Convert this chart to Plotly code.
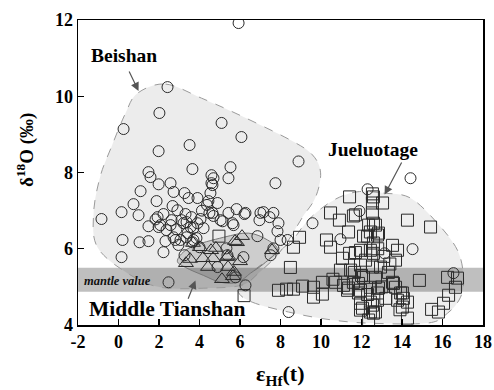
import plotly.graph_objects as go

# ---------------- data ----------------
beishan_x = [5.93, 2.42, 2.02, 0.25, 5.09, 6.07, 3.51, 1.98, 3.65, 5.53, 4.59, 1.48, 1.58, 1.98, 2.57,
             1.09, 2.72, 3.26, 1.88, 0.74, 0.15, 0.99, -0.84, 2.67, 2.91, 2.22, 1.83, 2.62, 3.11, 1.48,
             1.98, 2.37, 2.86, 0.20, 1.04, 1.48, 2.32, 2.81, 2.96, 0.15, 2.22, 2.47, 6.27, 5.78, 7.75,
             3.46, 3.90, 4.44, 3.31, 4.05, 4.49, 4.89, 5.43, 5.83, 6.27, 5.63, 5.04, 7.01, 6.96, 7.46,
             7.90, 6.86, 7.65, 7.51, 5.33, 4.69, 4.64, 4.54, 5.43, 1.93, 2.57, 2.07, 3.21, 3.41, 3.60,
             3.70, 3.90, 2.72, 3.06, 3.65, 3.85, 4.00, 3.26, 5.38, 6.17, 4.89, 4.59, 4.37, 4.12, 4.64,
             6.22, 7.16, 7.65, 4.69, 5.14, 5.68, 7.85, 3.36, 3.56, 4.20, 8.00, 8.35, 3.36, 3.70, 8.89,
             14.42, 9.58, 11.90, 12.30, 14.52, 13.14, 16.54, 8.40, 10.96]
beishan_y = [11.92, 10.24, 9.56, 9.14, 9.30, 8.93, 8.72, 8.56, 8.09, 8.14, 7.93, 8.01, 7.88, 7.69, 7.72,
             7.51, 7.49, 7.46, 7.25, 7.17, 6.96, 6.88, 6.78, 7.12, 7.01, 6.91, 6.77, 6.75, 6.75, 6.59,
             6.57, 6.49, 6.51, 6.23, 6.17, 6.20, 6.20, 6.23, 6.10, 5.78, 5.91, 5.12, 5.04, 5.25, 7.72,
             7.33, 7.33, 7.25, 6.91, 6.78, 6.94, 7.20, 6.94, 7.04, 6.94, 6.67, 6.75, 6.94, 6.75, 6.83,
             6.67, 6.33, 6.01, 5.83, 6.01, 7.85, 7.67, 7.46, 7.85, 6.83, 6.62, 6.62, 6.67, 6.41, 6.83,
             6.54, 6.67, 6.30, 6.23, 6.17, 6.28, 6.04, 5.83, 5.83, 5.78, 5.52, 7.72, 7.15, 7.00, 6.94,
             6.91, 6.96, 6.94, 6.86, 6.72, 6.62, 6.46, 6.70, 6.57, 6.54, 6.23, 6.23, 6.30, 6.23, 8.29,
             7.85, 6.67, 6.99, 7.56, 5.99, 5.88, 5.36, 4.34, 6.25]

jueluotage_x = [11.41, 12.54, 13.04, 12.54, 12.54, 10.47, 10.91, 11.60, 14.27, 15.41, 11.36, 12.35, 12.69,
                12.30, 12.79, 8.94, 8.64, 10.27, 10.47, 11.06, 11.41, 11.95, 12.44, 13.53, 13.78, 13.68,
                8.49, 11.95, 12.54, 12.94, 11.46, 10.72, 11.11, 11.60, 12.10, 12.69, 13.53, 13.68, 14.86,
                10.07, 9.63, 9.09, 8.64, 7.90, 9.63, 10.07, 11.31, 11.85, 12.44, 12.84, 13.93, 14.07,
                11.95, 12.54, 12.59, 14.02, 14.27, 15.46, 15.80, 16.05, 16.30, 16.64, 16.25, 16.74,
                11.95, 14.27, 12.59, 12.59, 12.84, 12.59, 12.59, 13.33, 13.58, 14.02, 13.78, 12.79,
                12.79, 12.69, 11.70, 12.10, 12.44, 10.96, 11.65, 10.59, 11.85, 11.36, 11.95, 12.05,
                12.44, 12.44, 12.35, 8.30, 4.96, 6.20, 12.2, 13.0, 13.2, 12.0, 13.4, 12.8, 13.9, 11.7,
                13.1, 12.3]
jueluotage_y = [7.36, 7.44, 7.20, 7.20, 6.94, 6.94, 6.75, 6.86, 6.75, 6.57, 6.44, 6.62, 6.62,
                6.33, 6.36, 6.30, 6.04, 6.23, 6.04, 5.75, 5.88, 5.96, 5.96, 6.09, 5.96, 5.70,
                5.51, 5.57, 5.52, 5.52, 5.44, 5.12, 5.04, 5.12, 5.25, 5.25, 5.12, 4.99, 5.17,
                5.12, 4.99, 5.02, 4.94, 4.91, 4.73, 4.81, 4.91, 4.84, 4.99, 4.97, 4.84, 4.70,
                4.57, 4.52, 4.31, 4.47, 4.60, 4.41, 4.34, 4.57, 4.78, 4.99, 5.25, 5.23,
                4.39, 4.18, 7.36, 6.67, 6.41, 6.15, 5.88, 5.38, 5.09, 4.84, 4.65, 4.84,
                4.65, 4.34, 6.89, 6.33, 6.44, 5.44, 5.38, 5.20, 5.09, 4.97, 4.91, 4.44,
                4.60, 4.34, 4.13, 4.94, 6.33, 4.77, 5.7, 5.0, 4.7, 5.3, 5.6, 6.0, 4.4, 5.9,
                5.8, 4.8]

tianshan_x = [3.33, 3.53, 3.68, 4.02, 4.17, 4.42, 4.57, 4.67, 4.81, 5.11, 5.36, 5.41, 5.41, 5.65, 5.70,
              5.75, 5.85, 6.00, 6.10, 7.58]
tianshan_y = [5.62, 5.73, 6.15, 6.04, 5.75, 5.52, 5.96, 5.75, 6.02, 5.20, 5.78, 5.81, 5.52, 5.28, 5.39,
              6.20, 6.17, 5.67, 6.33, 5.96]

# field outlines (data units)
beishan_fx = [2.32, 4.1, 6.0, 8.49, 9.58, 9.98, 9.73, 9.09, 8.4, 7.75, 6.91, 6.12, 4.5, 2.07, 0.44,
              -1.04, -1.23, -0.9, -0.35, 0.35, 0.94]
beishan_fy = [10.32, 9.95, 9.5, 8.85, 8.46, 7.99, 7.35, 6.83, 6.23, 5.78, 5.36, 5.05, 4.97, 4.99, 5.36,
              6.04, 6.93, 7.9, 8.67, 9.56, 10.08]
jue_fx = [13.09, 14.42, 15.75, 16.74, 17.04, 16.89, 16.25, 15.26, 12.3, 10.3, 8.4, 6.6, 5.9, 6.4, 7.6,
          8.59, 9.23, 10.0, 10.9, 11.9]
jue_fy = [7.46, 7.33, 6.67, 5.96, 5.25, 4.73, 4.31, 4.05, 4.05, 4.15, 4.34, 4.6, 4.9, 5.3, 5.8,
          6.23, 6.67, 7.05, 7.35, 7.5]
tian_fx = [2.91, 3.56, 5.19, 6.42, 7.36, 7.85, 7.16, 6.52, 5.88, 5.04, 4.20, 3.31]
tian_fy = [5.70, 6.04, 6.30, 6.41, 6.23, 5.96, 5.60, 5.36, 5.12, 5.12, 5.30, 5.51]

mantle_range = [4.87, 5.5]
x_ticks = [-2, 0, 2, 4, 6, 8, 10, 12, 14, 16, 18]
y_ticks = [4, 6, 8, 10, 12]

SERIF = "Liberation Serif"


def smooth_path(xs, ys):
    n = len(xs)
    p = list(zip(xs, ys))
    s = f"M {p[0][0]},{p[0][1]}"
    for i in range(n):
        p0, p1, p2, p3 = p[i - 1], p[i], p[(i + 1) % n], p[(i + 2) % n]
        c1 = (p1[0] + (p2[0] - p0[0]) / 6, p1[1] + (p2[1] - p0[1]) / 6)
        c2 = (p2[0] - (p3[0] - p1[0]) / 6, p2[1] - (p3[1] - p1[1]) / 6)
        s += f" C {c1[0]:.3f},{c1[1]:.3f} {c2[0]:.3f},{c2[1]:.3f} {p2[0]},{p2[1]}"
    return s + " Z"


fig = go.Figure()

mk_line = dict(color="#2a2a2a", width=1)
fig.add_trace(go.Scatter(x=beishan_x, y=beishan_y, mode="markers", name="Beishan",
                         marker=dict(symbol="circle-open", size=11, line=mk_line, color="#2a2a2a")))
fig.add_trace(go.Scatter(x=jueluotage_x, y=jueluotage_y, mode="markers", name="Jueluotage",
                         marker=dict(symbol="square-open", size=12, line=mk_line, color="#2a2a2a")))
fig.add_trace(go.Scatter(x=tianshan_x, y=tianshan_y, mode="markers", name="Middle Tianshan",
                         marker=dict(symbol="triangle-up-open", size=13, line=mk_line, color="#2a2a2a")))

shapes = [
    dict(type="path", path=smooth_path(beishan_fx, beishan_fy), xref="x", yref="y", layer="below",
         fillcolor="rgba(0,0,0,0.075)", line=dict(color="#9a9a9a", width=1, dash="dash")),
    dict(type="path", path=smooth_path(jue_fx, jue_fy), xref="x", yref="y", layer="below",
         fillcolor="rgba(0,0,0,0.065)", line=dict(color="#9a9a9a", width=1, dash="dash")),
    dict(type="rect", xref="paper", yref="y", x0=0, x1=1, y0=mantle_range[0], y1=mantle_range[1],
         layer="below", fillcolor="rgba(0,0,0,0.25)", line=dict(width=0)),
    dict(type="path", path=smooth_path(tian_fx, tian_fy), xref="x", yref="y", layer="below",
         fillcolor="rgba(0,0,0,0.13)", line=dict(color="#777777", width=1)),
]

ann_font = dict(family=SERIF, size=19.5, color="black")
annotations = [
    dict(x=-1.45, y=11.08, text="<b>Beishan</b>", showarrow=False, xanchor="left", yanchor="middle",
         font=ann_font),
    dict(x=12.55, y=8.6, text="<b>Jueluotage</b>", showarrow=False, xanchor="center", yanchor="middle",
         font=ann_font),
    dict(x=-1.55, y=4.42, text="<b>Middle Tianshan</b>", showarrow=False, xanchor="left",
         yanchor="middle", font=dict(family=SERIF, size=21.5, color="black")),
    dict(x=-1.8, y=5.16, text="<b><i>mantle value</i></b>", showarrow=False, xanchor="left",
         yanchor="middle", font=dict(family=SERIF, size=12.5, color="#111")),
    dict(x=-0.131, y=8.59, xref="paper", yref="y", text="<b>δ<sup>18</sup>O (‰)</b>",
         showarrow=False, textangle=-90, xanchor="center", yanchor="middle",
         font=dict(family=SERIF, size=19, color="black")),
    dict(x=0.5, y=-0.165, xref="paper", yref="paper", text="<b>ε<sub>Hf</sub>(t)</b>",
         showarrow=False, xanchor="center", yanchor="middle",
         font=dict(family=SERIF, size=22, color="black")),
    # arrows
    dict(x=0.99, y=10.14, ax=0.49, ay=10.69, xref="x", yref="y", axref="x", ayref="y", text="",
         showarrow=True, arrowhead=2, arrowsize=1.4, arrowwidth=1.2, arrowcolor="#555"),
    dict(x=13.14, y=7.42, ax=14.02, ay=8.3, xref="x", yref="y", axref="x", ayref="y", text="",
         showarrow=True, arrowhead=2, arrowsize=1.4, arrowwidth=1.2, arrowcolor="#555"),
    dict(x=3.8, y=5.17, ax=3.41, ay=4.65, xref="x", yref="y", axref="x", ayref="y", text="",
         showarrow=True, arrowhead=2, arrowsize=1.4, arrowwidth=1.2, arrowcolor="#555"),
]

tick_font = dict(family=SERIF, size=18, color="black")
fig.update_layout(
    width=494, height=390,
    margin=dict(l=78, r=11, t=20, b=65, autoexpand=False),
    plot_bgcolor="white", paper_bgcolor="white",
    showlegend=False,
    hovermode=False,
    shapes=shapes,
    annotations=annotations,
    xaxis=dict(range=[-2, 18], tickvals=x_ticks, ticktext=[f"<b>{v}</b>" for v in x_ticks],
               ticks="inside", ticklen=6, tickwidth=1.2, tickcolor="black",
               showline=True, linecolor="black", linewidth=1.5, mirror=True, automargin=False,
               showgrid=False, zeroline=False, tickfont=tick_font),
    yaxis=dict(range=[4, 12], tickvals=y_ticks, ticktext=[f"<b>{v}</b>" for v in y_ticks],
               ticks="inside", ticklen=6, tickwidth=1.2, tickcolor="black",
               showline=True, linecolor="black", linewidth=1.5, mirror=True, automargin=False,
               showgrid=False, zeroline=False, tickfont=tick_font),
)

fig.write_html("out.html", config={"displayModeBar": False, "staticPlot": True})

# remove the default page margin so the 494x390 figure fills the window exactly
with open("out.html", encoding="utf-8") as f:
    html = f.read()
html = html.replace("<body>", '<body style="margin:0;overflow:hidden">', 1)
with open("out.html", "w", encoding="utf-8") as f:
    f.write(html)
